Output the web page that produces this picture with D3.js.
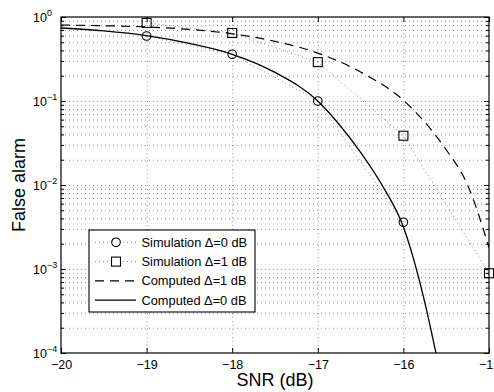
<!DOCTYPE html>
<html>
<head>
<meta charset="utf-8">
<script src="https://cdn.jsdelivr.net/npm/d3@7"></script>
<style>
  body { margin: 0; background: #fff; }
  svg { font-family: "Liberation Sans", Arial, Helvetica, sans-serif; }
</style>
</head>
<body>
<div id="chart"></div>
<script>
// snr values (dB)
var simSnr0 = [-19, -18, -17, -16];
var simVal0 = [0.594, 0.36, 0.1, 0.0036];          // Simulation Δ=0 dB
var simSnr1 = [-19, -18, -17, -16, -15];
var simVal1 = [0.85, 0.645, 0.29, 0.0386, 0.00089]; // Simulation Δ=1 dB

var compSnr1 = [-20, -19.5, -19, -18.5, -18, -17.5, -17, -16.5, -16, -15.75, -15.5, -15.25, -15];
var compVal1 = [0.803, 0.787, 0.762, 0.711, 0.631, 0.513, 0.372, 0.221, 0.102, 0.056, 0.0263, 0.01, 0.0018];

var compSnr0 = [-20, -19.5, -19, -18.5, -18, -17.5, -17, -16.75, -16.5, -16.25, -16, -15.75, -15.62];
var compVal0 = [0.74, 0.684, 0.60, 0.484, 0.36, 0.219, 0.1, 0.0525, 0.0245, 0.01, 0.00316, 0.0004, 0.0001];

var xTicks = [-20, -19, -18, -17, -16, -15];
var yMajor = [1e-4, 1e-3, 1e-2, 1e-1, 1];
var yExp = ["\u22124", "\u22123", "\u22122", "\u22121", "0"];
var legendLabels = ["Simulation \u0394=0 dB", "Simulation \u0394=1 dB", "Computed \u0394=1 dB", "Computed \u0394=0 dB"];

var W = 494, H = 392;
var margin = {top: 17, right: 5, bottom: 39, left: 61};
var width = W - margin.left - margin.right,
    height = H - margin.top - margin.bottom;

var yMinor = [];
yMajor.slice(0, -1).forEach(function(m) {
  for (var k = 2; k <= 9; k++) yMinor.push(m * k);
});

var x = d3.scaleLinear().domain([-20, -15]).range([0, width]);
var y = d3.scaleLog().domain([1e-4, 1]).range([height, 0]);

var svg = d3.select("#chart").append("svg")
    .attr("width", W).attr("height", H);
var g = svg.append("g")
    .attr("transform", "translate(" + margin.left + "," + margin.top + ")");

// grid
function styleGrid(sel) {
  sel.select(".domain").remove();
  sel.selectAll("line").attr("stroke", "#7a7a7a").attr("stroke-width", 0.8)
     .attr("stroke-dasharray", "1,3");
}
g.append("g")
    .call(d3.axisBottom(x).tickValues(xTicks.slice(1, -1)).tickSize(height).tickFormat(""))
    .call(styleGrid);
g.append("g")
    .call(d3.axisLeft(y).tickValues(yMajor.slice(1, -1).concat(yMinor)).tickSize(-width).tickFormat(""))
    .call(styleGrid);

// series lines
var line = d3.line()
    .x(function(d) { return x(d[0]); })
    .y(function(d) { return y(d[1]); });
var smooth = d3.line()
    .x(function(d) { return x(d[0]); })
    .y(function(d) { return y(d[1]); })
    .curve(d3.curveMonotoneX);

var sim0 = d3.zip(simSnr0, simVal0),
    sim1 = d3.zip(simSnr1, simVal1),
    comp0 = d3.zip(compSnr0, compVal0),
    comp1 = d3.zip(compSnr1, compVal1);

g.append("clipPath").attr("id", "clip").append("rect")
    .attr("width", width).attr("height", height);
var plot = g.append("g").attr("clip-path", "url(#clip)");

plot.append("path").datum(sim0).attr("d", line)
    .attr("fill", "none").attr("stroke", "#666").attr("stroke-width", 0.8).attr("stroke-dasharray", "1,3");
plot.append("path").datum(sim1).attr("d", line)
    .attr("fill", "none").attr("stroke", "#666").attr("stroke-width", 0.8).attr("stroke-dasharray", "1,3");
plot.append("path").datum(comp1).attr("d", smooth)
    .attr("fill", "none").attr("stroke", "#000").attr("stroke-width", 1.2).attr("stroke-dasharray", "9,6");
plot.append("path").datum(comp0).attr("d", smooth)
    .attr("fill", "none").attr("stroke", "#000").attr("stroke-width", 1.3);

// markers
g.selectAll(".circ").data(sim0).enter().append("circle")
    .attr("cx", function(d) { return x(d[0]); })
    .attr("cy", function(d) { return y(d[1]); })
    .attr("r", 4.3)
    .attr("fill", "none").attr("stroke", "#000").attr("stroke-width", 1.1);
g.selectAll(".sq").data(sim1).enter().append("rect")
    .attr("x", function(d) { return x(d[0]) - 4.5; })
    .attr("y", function(d) { return y(d[1]) - 4.5; })
    .attr("width", 9).attr("height", 9)
    .attr("fill", "none").attr("stroke", "#000").attr("stroke-width", 1.1);

// axes (ticks inside)
function styleAxis(sel) {
  sel.select(".domain").remove();
  sel.selectAll("line").attr("stroke", "#000");
}
var xb = g.append("g").attr("transform", "translate(0," + height + ")")
    .call(d3.axisBottom(x).tickValues(xTicks).tickSizeInner(-5).tickSizeOuter(0).tickPadding(7)
      .tickFormat(function(d) { return d3.format("d")(d).replace("-", "\u2212"); }))
    .call(styleAxis);
xb.selectAll("text").attr("font-size", "12.5px").attr("fill", "#000");
g.append("g")
    .call(d3.axisTop(x).tickValues(xTicks).tickSizeInner(-5).tickSizeOuter(0).tickFormat(""))
    .call(styleAxis);

var yl = g.append("g")
    .call(d3.axisLeft(y).tickValues(yMajor).tickSizeInner(-5).tickSizeOuter(0).tickFormat(""))
    .call(styleAxis);
g.append("g")
    .call(d3.axisLeft(y).tickValues(yMinor).tickSizeInner(-3).tickSizeOuter(0).tickFormat(""))
    .call(styleAxis);
g.append("g").attr("transform", "translate(" + width + ",0)")
    .call(d3.axisRight(y).tickValues(yMajor).tickSizeInner(-5).tickSizeOuter(0).tickFormat(""))
    .call(styleAxis);
g.append("g").attr("transform", "translate(" + width + ",0)")
    .call(d3.axisRight(y).tickValues(yMinor).tickSizeInner(-3).tickSizeOuter(0).tickFormat(""))
    .call(styleAxis);

// y tick labels 10^n
yl.selectAll(".tick").each(function(d) {
  var t = d3.select(this).append("text")
      .attr("x", -28).attr("y", 4.5)
      .attr("text-anchor", "start")
      .attr("fill", "#000")
      .attr("font-size", "12.5px");
  t.append("tspan").text("10");
  t.append("tspan").attr("dy", "-6").attr("font-size", "9px").text(yExp[yMajor.indexOf(d)]);
});

// box
g.append("rect").attr("width", width).attr("height", height)
    .attr("fill", "none").attr("stroke", "#000").attr("stroke-width", 1.2);

// axis titles
svg.append("text")
    .attr("x", margin.left + width / 2).attr("y", 386)
    .attr("text-anchor", "middle").attr("font-size", "18px")
    .text("SNR (dB)");
svg.append("text")
    .attr("transform", "translate(25," + (margin.top + height / 2) + ") rotate(-90)")
    .attr("text-anchor", "middle").attr("font-size", "18px")
    .text("False alarm");

// legend
var lg = svg.append("g").attr("transform", "translate(89,230)");
lg.append("rect").attr("width", 166).attr("height", 82)
    .attr("fill", "#fff").attr("stroke", "#000").attr("stroke-width", 1.1);
var rows = lg.selectAll(".row").data(legendLabels).enter().append("g")
    .attr("transform", function(d, i) { return "translate(0," + (12.3 + i * 19.3) + ")"; });
rows.append("line").attr("x1", 6).attr("x2", 47)
    .attr("stroke", function(d, i) { return i < 2 ? "#666" : "#000"; })
    .attr("stroke-width", function(d, i) { return i < 2 ? 0.8 : 1.2; })
    .attr("stroke-dasharray", function(d, i) { return i < 2 ? "1,3" : (i === 2 ? "9,6" : null); });
rows.filter(function(d, i) { return i === 0; }).append("circle")
    .attr("cx", 27).attr("r", 4.3).attr("fill", "#fff").attr("stroke", "#000").attr("stroke-width", 1.1);
rows.filter(function(d, i) { return i === 1; }).append("rect")
    .attr("x", 22.5).attr("y", -4.5).attr("width", 9).attr("height", 9)
    .attr("fill", "#fff").attr("stroke", "#000").attr("stroke-width", 1.1);
rows.append("text").attr("x", 52.5).attr("y", 4.5)
    .attr("font-size", "12.8px").text(function(d) { return d; });
</script>
</body>
</html>
